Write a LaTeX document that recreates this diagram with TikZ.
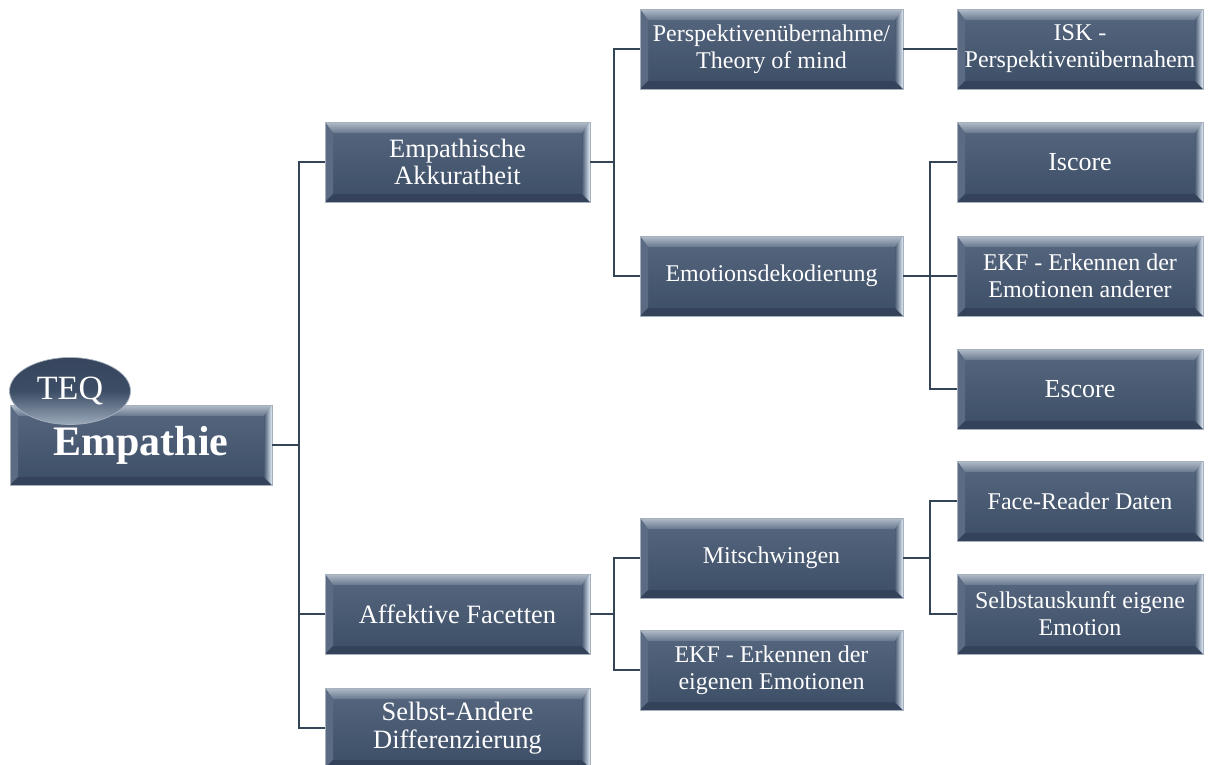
\documentclass[tikz,border=0pt]{standalone}
\usepackage{fontspec}
\setmainfont{Liberation Serif}
\usetikzlibrary{shapes.geometric,calc}
\definecolor{linecol}{HTML}{354558}
\definecolor{rimcol}{HTML}{A7B1BE}
\definecolor{facetop}{HTML}{56677F}
\definecolor{facebot}{HTML}{3C4D66}
\definecolor{bevtopA}{HTML}{B3BDCA}
\definecolor{bevtopB}{HTML}{67778E}
\definecolor{bevleft}{HTML}{5A6B83}
\definecolor{bevbot}{HTML}{34435A}
\definecolor{bevrA}{HTML}{4B5C74}
\definecolor{bevrB}{HTML}{E2ECF7}
\tikzset{
  conn/.style={draw=linecol, line width=2.8pt},
  boxbase/.style={draw=rimcol, line width=0.7pt, inner sep=0pt,
    top color=facetop, bottom color=facebot, text=white, align=center,
    minimum height=80pt,
    path picture={
      \coordinate (pnw) at (path picture bounding box.north west);
      \coordinate (pne) at (path picture bounding box.north east);
      \coordinate (psw) at (path picture bounding box.south west);
      \coordinate (pse) at (path picture bounding box.south east);
      \shade[top color=bevtopA, bottom color=bevtopB] (pnw) -- (pne) -- ([shift={(-8pt,-11pt)}]pne) -- ([shift={(8pt,-11pt)}]pnw) -- cycle;
      \fill[bevleft] (pnw) -- ([shift={(8pt,-11pt)}]pnw) -- ([shift={(8pt,8pt)}]psw) -- (psw) -- cycle;
      \fill[bevbot] (psw) -- ([shift={(8pt,8pt)}]psw) -- ([shift={(-8pt,8pt)}]pse) -- (pse) -- cycle;
      \shade[left color=bevrA, right color=bevrB] (pne) -- ([shift={(-8pt,-11pt)}]pne) -- ([shift={(-8pt,8pt)}]pse) -- (pse) -- cycle;
    }},
  lvlone/.style={boxbase, minimum width=265pt, font=\fontsize{26.5}{27.5}\selectfont},
  lvltwo/.style={boxbase, minimum width=263pt, font=\fontsize{24}{27}\selectfont},
  lvlthree/.style={boxbase, minimum width=246pt, font=\fontsize{24}{27}\selectfont},
  bigger/.style={font=\fontsize{26}{28}\selectfont},
}
\begin{document}
\begin{tikzpicture}[x=1pt,y=-1pt]
\useasboundingbox (0,0) rectangle (1220,764);
% nodes
\node[lvlone, minimum width=262pt, font=\bfseries\fontsize{42}{46}\selectfont] (emp) at (141,445) {Empathie};
\node[ellipse, draw=rimcol, line width=0.7pt, minimum width=121pt, minimum height=67pt, inner sep=0pt,
  top color=facebot!90!black, bottom color=bevrB!50!facetop, middle color=facebot,
  text=white, font=\fontsize{34}{36}\selectfont] (teq) at (70,391) {TEQ};
\node[lvlone] (akk) at (457.5,162) {Empathische\\Akkuratheit};
\node[lvlone] (aff) at (457.5,614) {Affektive Facetten};
\node[lvlone] (sad) at (457.5,728) {Selbst-Andere\\Differenzierung};
\node[lvltwo] (per) at (771.5,49) {Perspektivenübernahme/\\Theory of mind};
\node[lvltwo] (emo) at (771.5,276) {Emotionsdekodierung};
\node[lvltwo] (mit) at (771.5,558) {Mitschwingen};
\node[lvltwo] (ekfe) at (771.5,670) {EKF - Erkennen der\\eigenen Emotionen};
\node[lvlthree] (isk) at (1080,49) {ISK -\\Perspektivenübernahem};
\node[lvlthree, bigger] (isc) at (1080,162) {Iscore};
\node[lvlthree] (ekfa) at (1080,276) {EKF - Erkennen der\\Emotionen anderer};
\node[lvlthree, bigger] (esc) at (1080,389) {Escore};
\node[lvlthree] (face) at (1080,501) {Face-Reader Daten};
\node[lvlthree] (selb) at (1080,614) {Selbstauskunft eigene\\Emotion};
% junctions
\coordinate (j1) at (299,445);
\coordinate (j2) at (614,162);
\coordinate (j3) at (930,276);
\coordinate (j4) at (614,614);
\coordinate (j5) at (930,558);
% connectors
\draw[conn] (emp.east) -- (j1);
\draw[conn] (akk.west) -- (akk.west -| j1) -- (sad.west -| j1) -- (sad.west);
\draw[conn] (aff.west) -- (aff.west -| j1);
\draw[conn] (akk.east) -- (j2);
\draw[conn] (per.west) -- (per.west -| j2) -- (emo.west -| j2) -- (emo.west);
\draw[conn] (per.east) -- (isk.west);
\draw[conn] (emo.east) -- (ekfa.west);
\draw[conn] (isc.west) -- (isc.west -| j3) -- (esc.west -| j3) -- (esc.west);
\draw[conn] (aff.east) -- (j4);
\draw[conn] (mit.west) -- (mit.west -| j4) -- (ekfe.west -| j4) -- (ekfe.west);
\draw[conn] (mit.east) -- (j5);
\draw[conn] (face.west) -- (face.west -| j5) -- (selb.west -| j5) -- (selb.west);
\end{tikzpicture}
\end{document}
